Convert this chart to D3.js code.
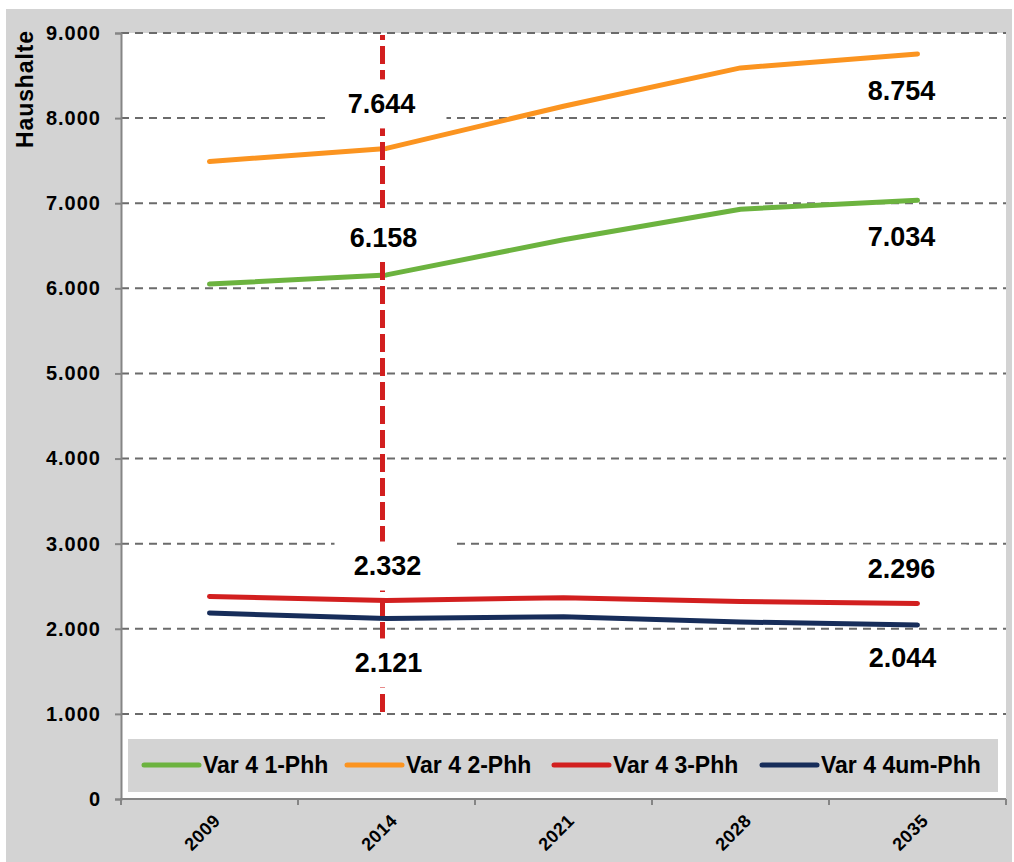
<!DOCTYPE html>
<html>
<head>
<meta charset="utf-8">
<script src="https://cdn.jsdelivr.net/npm/d3@7"></script>
<style>
  html, body { margin: 0; padding: 0; background: #ffffff; }
  svg { display: block; }
  text { font-family: "Liberation Sans", Arial, Helvetica, sans-serif; font-weight: bold; fill: #000; }
</style>
</head>
<body>
<svg id="chart" width="1014" height="862"></svg>
<script>
// Jahre (Kategorien der x-Achse)
const years = ["2009", "2014", "2021", "2028", "2035"];

// Haushalte nach Haushaltsgröße, Variante 4
const var4_1Phh  = [6050, 6158, 6570, 6930, 7034];
const var4_2Phh  = [7490, 7644, 8140, 8590, 8754];
const var4_3Phh  = [2380, 2332, 2365, 2320, 2296];
const var4_4umPhh = [2185, 2121, 2140, 2080, 2044];

const seriesNames = ["Var 4 1-Phh", "Var 4 2-Phh", "Var 4 3-Phh", "Var 4 4um-Phh"];

// y-Achse
const yTicks = [0, 1000, 2000, 3000, 4000, 5000, 6000, 7000, 8000, 9000];
const yTitle = "Haushalte";

// Markierungsjahr (senkrechte rote Linie) und beschriftete Jahre
const markerYear = "2014";
const labelYears = ["2014", "2035"];

// ---- Darstellung ----
const colors = ["#6cb33f", "#fb9420", "#d21f1f", "#172d5a"];
const seriesValues = [var4_1Phh, var4_2Phh, var4_3Phh, var4_4umPhh];

// Lage der Wertelabels relativ zum Punkt: [dx, dy] je Jahr
const labelOffsets = [
  { "2014": [-3, -38], "2035": [-16, 36] },
  { "2014": [-5, -45], "2035": [-16, 36] },
  { "2014": [1, -35],  "2035": [-16, -35] },
  { "2014": [2, 44],   "2035": [-15, 32] }
];

const de = d3.formatLocale({ decimal: ",", thousands: ".", grouping: [3], currency: ["", " €"] });
const fmt = de.format(",.0f");

const svg = d3.select("#chart");
const W = 1014, H = 862;

const plot = { left: 121, right: 1006, top: 33, bottom: 799 };

// Hintergrund
svg.append("rect").attr("x", 6).attr("y", 9).attr("width", 1006).attr("height", H - 9).attr("fill", "#d3d3d3");
svg.append("rect")
  .attr("x", plot.left).attr("y", plot.top)
  .attr("width", plot.right - plot.left).attr("height", plot.bottom - plot.top)
  .attr("fill", "#ffffff");

const x = d3.scaleBand().domain(years).range([plot.left, plot.right]).padding(0);
const xc = d => x(d) + x.bandwidth() / 2;
const y = d3.scaleLinear().domain([0, 9000]).range([plot.bottom, plot.top]);

// Positionen der Wertelabels
const labelData = [];
seriesValues.forEach((vals, i) => {
  labelYears.forEach(yr => {
    const v = vals[years.indexOf(yr)];
    const [dx, dy] = labelOffsets[i][yr];
    labelData.push({ v, cx: xc(yr) + dx, cy: y(v) + dy });
  });
});
const boxX = d => d.cx - 53, boxY = d => d.cy - 24, boxW = 118, boxH = 49;

// Maske: Markierungslinie wird von den Labelflächen unterbrochen
const mask = svg.append("defs").append("mask").attr("id", "label-gaps")
  .attr("maskUnits", "userSpaceOnUse").attr("x", 0).attr("y", 0).attr("width", W).attr("height", H);
mask.append("rect").attr("x", 0).attr("y", 0).attr("width", W).attr("height", H).attr("fill", "#fff");
mask.selectAll("rect.gap").data(labelData).join("rect").attr("class", "gap")
  .attr("x", boxX).attr("y", boxY).attr("width", boxW).attr("height", boxH).attr("fill", "#000");

// Gitternetzlinien
svg.append("g")
  .selectAll("line")
  .data(yTicks.filter(d => d > 0))
  .join("line")
  .attr("x1", plot.left).attr("x2", plot.right)
  .attr("y1", d => y(d)).attr("y2", d => y(d))
  .attr("stroke", "#6b6b6b").attr("stroke-width", 2)
  .attr("stroke-dasharray", "8,6");

// y-Achse
const yAxis = svg.append("g")
  .attr("transform", `translate(${plot.left},0)`)
  .call(d3.axisLeft(y).tickValues(yTicks).tickSize(6).tickPadding(14).tickFormat(d => fmt(d)));
yAxis.select(".domain").attr("stroke", "#858585").attr("stroke-width", 2);
yAxis.selectAll(".tick line").attr("stroke", "#858585").attr("stroke-width", 2);
yAxis.selectAll(".tick text")
  .attr("font-size", 20).attr("letter-spacing", "1px")
  .attr("font-family", "Liberation Sans, Arial, sans-serif").attr("font-weight", "bold")
  .attr("fill", "#000");

// x-Achse mit Teilstrichen zwischen den Kategorien
const xAxisG = svg.append("g");
xAxisG.append("line")
  .attr("x1", plot.left - 1).attr("x2", plot.right)
  .attr("y1", plot.bottom).attr("y2", plot.bottom)
  .attr("stroke", "#858585").attr("stroke-width", 2);
const boundaries = years.map(d => x(d)).concat([x(years[years.length - 1]) + x.bandwidth()]);
xAxisG.selectAll("line.tk")
  .data(boundaries)
  .join("line").attr("class", "tk")
  .attr("x1", d => d).attr("x2", d => d)
  .attr("y1", plot.bottom).attr("y2", plot.bottom + 6)
  .attr("stroke", "#858585").attr("stroke-width", 2);
xAxisG.selectAll("text")
  .data(years)
  .join("text")
  .attr("transform", d => `translate(${xc(d) + 3},${plot.bottom + 14}) rotate(-45)`)
  .attr("text-anchor", "end")
  .attr("dy", "0.7em")
  .attr("font-size", 18).attr("letter-spacing", "0.5px")
  .text(d => d);

// y-Achsentitel
svg.append("text")
  .attr("transform", `translate(33,89) rotate(-90)`)
  .attr("text-anchor", "middle")
  .attr("font-size", 23).attr("letter-spacing", "0.9px")
  .text(yTitle);

// Legende
const leg = svg.append("g");
leg.append("rect").attr("x", 128).attr("y", 739).attr("width", 870).attr("height", 53).attr("fill", "#d3d3d3");
const legX = [144, 347, 554, 762];
seriesNames.forEach((name, i) => {
  leg.append("line")
    .attr("x1", legX[i]).attr("x2", legX[i] + 55)
    .attr("y1", 765).attr("y2", 765)
    .attr("stroke", colors[i]).attr("stroke-width", 5).attr("stroke-linecap", "round");
  leg.append("text")
    .attr("x", legX[i] + 59).attr("y", 765).attr("dy", "0.36em")
    .attr("font-size", 23)
    .text(name);
});

// weiße Labelflächen über dem Gitter
svg.append("g")
  .selectAll("rect")
  .data(labelData)
  .join("rect")
  .attr("x", boxX).attr("y", boxY)
  .attr("width", boxW).attr("height", boxH)
  .attr("fill", "#ffffff");

// Linien der Reihen
const line = d3.line().x((d, i) => xc(years[i])).y(d => y(d));
svg.append("g")
  .selectAll("path")
  .data(seriesValues)
  .join("path")
  .attr("d", d => line(d))
  .attr("fill", "none")
  .attr("stroke", (d, i) => colors[i])
  .attr("stroke-width", 5)
  .attr("stroke-linecap", "round")
  .attr("stroke-linejoin", "round");

// senkrechte Markierungslinie über den Reihen
svg.append("line")
  .attr("x1", xc(markerYear) - 4).attr("x2", xc(markerYear) - 4)
  .attr("y1", y(9000) + 2).attr("y2", y(1000) + 1)
  .attr("stroke", "#d21f1f").attr("stroke-width", 5)
  .attr("stroke-dasharray", "18,6").attr("stroke-dashoffset", 13)
  .attr("mask", "url(#label-gaps)");

// Wertelabels
svg.append("g")
  .selectAll("text")
  .data(labelData)
  .join("text")
  .attr("x", d => d.cx).attr("y", d => d.cy).attr("dy", "0.36em")
  .attr("text-anchor", "middle")
  .attr("font-size", 27)
  .text(d => fmt(d.v));
</script>
</body>
</html>
